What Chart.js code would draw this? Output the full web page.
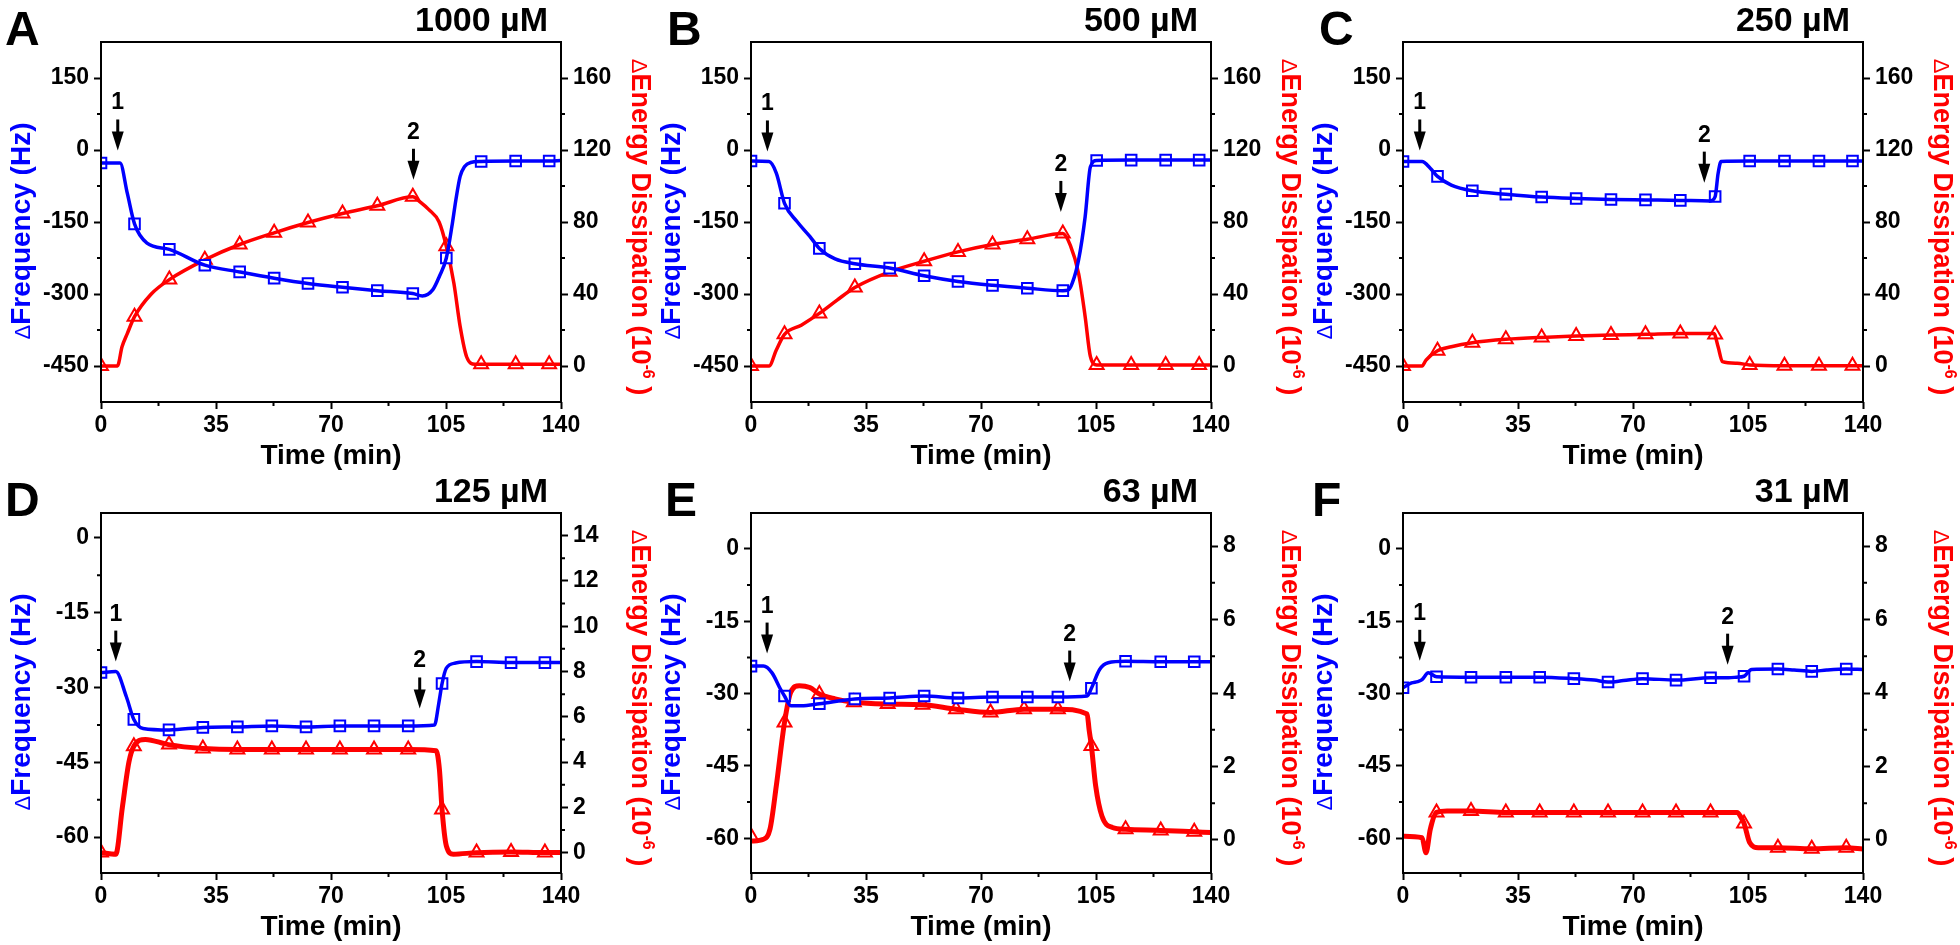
<!DOCTYPE html>
<html lang="en">
<head>
<meta charset="UTF-8">
<title>Frequency and dissipation traces</title>
<script src="https://cdn.jsdelivr.net/npm/chart.js@4"></script>
<style>
  * { margin: 0; padding: 0; box-sizing: border-box; }
  body { background: #fff; width: 1960px; height: 945px; overflow: hidden; position: relative; }
  .panel { position: absolute; width: 690px; height: 475px; }
  canvas { display: block; }
</style>
</head>
<body>
<div class="panel" style="left:0;top:0"><canvas id="cA" width="690" height="475"></canvas></div>
<div class="panel" style="left:650px;top:0"><canvas id="cB" width="690" height="475"></canvas></div>
<div class="panel" style="left:1302px;top:0"><canvas id="cC" width="690" height="475"></canvas></div>
<div class="panel" style="left:0;top:471px"><canvas id="cD" width="690" height="475"></canvas></div>
<div class="panel" style="left:650px;top:471px"><canvas id="cE" width="690" height="475"></canvas></div>
<div class="panel" style="left:1302px;top:471px"><canvas id="cF" width="690" height="475"></canvas></div>

<script>
// ---- tick labels ----
const timeTicks = [0, 35, 70, 105, 140];
const timeMinor = [17.5, 52.5, 87.5, 122.5];
const freqTicksHigh = [-450, -300, -150, 0, 150];
const freqMinorHigh = [-375, -225, -75, 75];
const dissTicksHigh = [0, 40, 80, 120, 160];
const dissMinorHigh = [20, 60, 100, 140];
const freqTicksLow = [-60, -45, -30, -15, 0];
const freqMinorLow = [-52.5, -37.5, -22.5, -7.5];
const dissTicksD = [0, 2, 4, 6, 8, 10, 12, 14];
const dissMinorD = [1, 3, 5, 7, 9, 11, 13];
const dissTicksLow = [0, 2, 4, 6, 8];
const dissMinorLow = [1, 3, 5, 7];

// ---- A : 1000 uM ----
const aFreqTime = [0, 5.8, 8, 10.2, 14, 20.8, 31.6, 42.2, 52.7, 63, 73.5, 84.1, 94.9, 97.8, 101, 103, 105.1, 106.8, 108, 109.3, 110.6, 112.5, 115.7, 126.2, 136.4, 140];
const aFreq = [-27, -27, -90, -154, -194, -207, -240, -254, -267, -278, -286, -293, -299, -304, -291, -263, -225, -159, -104, -55, -35, -26, -24, -23, -23, -22];
const aDissTime = [0, 5, 6.4, 8, 10.2, 15.3, 20.8, 31.6, 42.2, 52.7, 63, 73.5, 84.1, 94.9, 97.2, 99.7, 102.9, 105.1, 107.4, 109.3, 111.3, 113.8, 115.7, 126.2, 136.4, 140];
const aDiss = [0, 0, 10.7, 18, 27.4, 40, 48, 59, 67.5, 74, 79.7, 84.7, 89, 94, 91, 87, 80, 66.5, 46, 22, 5, 1, 1, 1, 1, 1];
const aMarkTime = [0, 10.2, 20.8, 31.6, 42.2, 52.7, 63, 73.5, 84.1, 94.9, 105.1, 115.7, 126.2, 136.4];
const aMarkFreq = [-27, -154, -207, -240, -254, -267, -278, -286, -293, -299, -225, -24, -23, -23];
const aMarkDiss = [0, 27.4, 48, 59, 67.5, 74, 79.7, 84.7, 89, 94, 66.5, 1, 1, 1];
const aArrows = [[5.1, -1], [95.1, -62]];

// ---- B : 500 uM ----
const bFreqTime = [0, 5.5, 7.7, 10.2, 14, 17.9, 20.8, 25.6, 31.6, 42.2, 52.7, 63, 73.5, 84.1, 94.9, 96.5, 97.8, 99.7, 101.7, 103.3, 105.2, 115.7, 126.2, 136.4, 140];
const bFreq = [-23, -24, -48, -111, -149, -180, -205, -227, -237, -246, -262, -274, -282, -288, -293, -292, -277, -229, -139, -35, -22, -21, -21, -21, -21];
const bDissTime = [0, 5.5, 7.7, 10.2, 15.3, 20.8, 26.2, 31.6, 42.2, 52.7, 63, 73.5, 84.1, 94.9, 97.2, 99.7, 101.7, 103.3, 105.2, 115.7, 126.2, 136.4, 140];
const bDiss = [0, 0, 8.9, 17.6, 22.7, 29.2, 36.6, 43.6, 52.3, 58.2, 63.4, 67.5, 70.4, 73.6, 67, 51.4, 27.4, 5.2, 0.6, 0.5, 0.5, 0.5, 0.5];
const bMarkTime = [0, 10.2, 20.8, 31.6, 42.2, 52.7, 63, 73.5, 84.1, 94.9, 105.2, 115.7, 126.2, 136.4];
const bMarkFreq = [-23, -111, -205, -237, -246, -262, -274, -282, -288, -293, -22, -21, -21, -21];
const bMarkDiss = [0, 17.6, 29.2, 43.6, 52.3, 58.2, 63.4, 67.5, 70.4, 73.6, 0.6, 0.5, 0.5, 0.5];
const bArrows = [[5, -3], [94.3, -129]];

// ---- C : 250 uM ----
const cFreqTime = [0, 5.8, 8.3, 10.5, 14.7, 21.1, 31.3, 42.2, 52.7, 63.3, 73.8, 84.4, 93.4, 95, 95.9, 96.8, 105.5, 116.1, 126.6, 136.8, 140];
const cFreq = [-24, -24, -38, -55, -73, -85, -92, -98, -101, -103, -104, -105, -106, -97, -49, -24, -23, -23, -23, -23, -23];
const cDissTime = [0, 5.8, 7, 10.5, 14.7, 21.1, 31.3, 42.2, 52.7, 63.3, 73.8, 84.4, 94.6, 95.9, 97.2, 101.7, 105.5, 116.1, 126.6, 136.8, 140];
const cDiss = [0, 0, 3.3, 8.5, 10.7, 12.9, 14.8, 15.9, 16.6, 17.2, 17.6, 18.1, 18.1, 10.7, 2.4, 1.5, 0.6, 0.2, 0.2, 0.2, 0.2];
const cMarkTime = [0, 10.5, 21.1, 31.3, 42.2, 52.7, 63.3, 73.8, 84.4, 95, 105.5, 116.1, 126.6, 136.8];
const cMarkFreq = [-24, -55, -85, -92, -98, -101, -103, -104, -105, -97, -23, -23, -23, -23];
const cMarkDiss = [0, 8.5, 12.9, 14.8, 15.9, 16.6, 17.2, 17.6, 18.1, 17.5, 0.6, 0.2, 0.2, 0.2];
const cArrows = [[5.1, -1], [91.7, -68]];

// ---- D : 125 uM ----
const dFreqTime = [0, 4.5, 7.7, 10, 12.8, 20.8, 31.1, 41.5, 52, 62.4, 72.7, 83.1, 93.5, 101.5, 102.8, 103.8, 105.1, 107.9, 114.3, 124.8, 135.1, 140];
const dFreq = [-27, -26.8, -31.8, -36.4, -38.2, -38.5, -38, -37.9, -37.7, -37.9, -37.7, -37.7, -37.7, -37.5, -33.2, -29.2, -26.1, -25.1, -24.8, -25, -25, -25];
const dDissTime = [0, 4.5, 6.5, 8.5, 10, 13.5, 20.5, 31, 41.5, 52, 62.4, 72.7, 83.1, 93.5, 102, 103, 103.8, 105.1, 107.2, 114.3, 124.8, 135.1, 140];
const dDiss = [0, -0.07, 2.0, 4.0, 4.7, 5.0, 4.77, 4.6, 4.55, 4.55, 4.55, 4.55, 4.55, 4.55, 4.5, 3.67, 1.9, 0.3, -0.07, 0, 0.03, 0, 0];
const dMarkTime = [0, 10, 20.7, 31, 41.5, 52, 62.4, 72.7, 83.1, 93.5, 103.8, 114.3, 124.8, 135.1];
const dMarkFreq = [-27, -36.4, -38.5, -38, -37.9, -37.7, -37.9, -37.7, -37.7, -37.7, -29.2, -24.8, -25, -25];
const dMarkDiss = [0, 4.7, 4.77, 4.6, 4.55, 4.55, 4.55, 4.55, 4.55, 4.55, 1.9, 0, 0.03, 0];
const dArrows = [[4.5, -24.8], [97, -34.2]];

// ---- E : 63 uM ----
const eFreqTime = [0, 3.8, 6.4, 9, 10.2, 12.1, 15.3, 20.8, 31.6, 42.2, 52.7, 63, 73.5, 84.1, 93.4, 102.3, 103.6, 106.1, 108.7, 114, 124.7, 134.9, 140];
const eFreq = [-24.3, -24.3, -25.7, -29.1, -30.5, -32.5, -32.5, -32.1, -31.1, -30.9, -30.5, -30.9, -30.7, -30.7, -30.7, -30.5, -28.9, -25, -23.6, -23.3, -23.4, -23.4, -23.4];
const eDissTime = [0, 3.8, 5.8, 7.7, 10.2, 12.1, 14.7, 17.9, 20.8, 25.6, 31.3, 41.6, 52.2, 62.4, 72.9, 83.1, 93.4, 102.3, 102.9, 103.6, 104.9, 106.8, 110, 114, 124.7, 134.9, 140];
const eDiss = [-0.03, 0.02, 0.3, 1.47, 3.2, 4.02, 4.2, 4.15, 3.97, 3.84, 3.75, 3.7, 3.68, 3.56, 3.47, 3.56, 3.56, 3.43, 3.0, 2.56, 1.47, 0.65, 0.34, 0.29, 0.26, 0.22, 0.2];
const eMarkTime = [0, 10.2, 20.8, 31.6, 42.2, 52.7, 63, 73.5, 84.1, 93.4, 103.6, 114, 124.7, 134.9];
const eMarkFreq = [-24.3, -30.5, -32.1, -31.1, -30.9, -30.5, -30.9, -30.7, -30.7, -30.7, -28.9, -23.3, -23.4, -23.4];
const eMarkDissTime = [0, 10.2, 20.8, 31.3, 41.6, 52.2, 62.4, 72.9, 83.1, 93.4, 103.6, 114, 124.7, 134.9];
const eMarkDiss = [0.1, 3.2, 3.97, 3.75, 3.7, 3.68, 3.56, 3.47, 3.56, 3.56, 2.56, 0.29, 0.26, 0.22];
const eArrows = [[4.9, -21.7], [97, -27.5]];

// ---- F : 31 uM ----
const fFreqTime = [0, 2.6, 4.5, 5.8, 7.7, 10.2, 20.7, 31.3, 41.6, 52, 58.2, 62.4, 67.1, 72.9, 83.1, 93.6, 99.1, 101.5, 103.8, 106.1, 114.1, 119, 124.4, 129, 134.9, 140];
const fFreq = [-28.8, -27.8, -27.5, -27.1, -25.7, -26.5, -26.6, -26.6, -26.6, -26.9, -27.2, -27.6, -27.3, -26.9, -27.2, -26.7, -26.7, -26.6, -26.4, -25, -24.9, -25.1, -25.4, -25.1, -24.9, -25];
const fDissTime = [0, 5.8, 7, 8.3, 10.2, 13.4, 20.7, 31.3, 41.6, 52, 62.4, 72.9, 83.1, 93.6, 101.7, 102.9, 103.8, 105.5, 108.1, 114.1, 124.4, 134.9, 140];
const fDiss = [0.1, 0.06, -0.35, 0.29, 0.75, 0.79, 0.79, 0.75, 0.75, 0.75, 0.75, 0.75, 0.75, 0.75, 0.75, 0.61, 0.45, -0.07, -0.21, -0.21, -0.24, -0.21, -0.25];
const fMarkTime = [0, 10.2, 20.7, 31.3, 41.6, 52, 62.4, 72.9, 83.1, 93.6, 103.8, 114.1, 124.4, 134.9];
const fMarkFreq = [-28.8, -26.5, -26.6, -26.6, -26.6, -26.9, -27.6, -26.9, -27.2, -26.7, -26.4, -24.9, -25.4, -24.9];
const fMarkDissTime = [10.2, 20.7, 31.3, 41.6, 52, 62.4, 72.9, 83.1, 93.6, 103.8, 114.1, 124.4, 134.9];
const fMarkDiss = [0.75, 0.79, 0.75, 0.75, 0.75, 0.75, 0.75, 0.75, 0.75, 0.45, -0.21, -0.24, -0.21];
const fArrows = [[5.1, -23.2], [98.8, -24]];

const BLUE = '#0000ff';
const RED = '#ff0000';
const FONT = '"Liberation Sans", Arial, sans-serif';
Chart.defaults.font.family = FONT;

function pts(xs, ys) { return xs.map((x, i) => ({ x, y: ys[i] })); }

// text made of runs in different fonts, centred on (cx, cy) along its baseline
function richText(ctx, parts, cx, cy, rot, color) {
  let total = 0;
  parts.forEach(p => { ctx.font = p.font; p.w = ctx.measureText(p.t).width; total += p.w; });
  ctx.save();
  ctx.translate(cx, cy);
  ctx.rotate(rot);
  ctx.fillStyle = color;
  ctx.textAlign = 'left';
  ctx.textBaseline = 'alphabetic';
  let x = -total / 2;
  parts.forEach(p => { ctx.font = p.font; ctx.fillText(p.t, x, p.dy || 0); x += p.w; });
  ctx.restore();
}

// frame, minor ticks, axis titles, arrows, panel letter and concentration
const decor = {
  id: 'decor',
  afterDatasetsDraw(chart, args, o) {
    const ctx = chart.ctx, a = chart.chartArea;
    const xs = chart.scales.x, yl = chart.scales.yF, yr = chart.scales.yD;
    const midY = (a.top + a.bottom) / 2, midX = (a.left + a.right) / 2;
    ctx.save();
    ctx.strokeStyle = '#000';
    ctx.lineWidth = 2;
    ctx.strokeRect(a.left, a.top, a.right - a.left, a.bottom - a.top);
    ctx.beginPath();
    o.minorX.forEach(v => { const p = xs.getPixelForValue(v); ctx.moveTo(p, a.bottom); ctx.lineTo(p, a.bottom + 4); });
    o.minorF.forEach(v => { const p = yl.getPixelForValue(v); ctx.moveTo(a.left, p); ctx.lineTo(a.left - 4, p); });
    o.minorD.forEach(v => { const p = yr.getPixelForValue(v); ctx.moveTo(a.right, p); ctx.lineTo(a.right + 4, p); });
    ctx.stroke();

    richText(ctx, [
      { t: 'Δ', font: '22px ' + FONT },
      { t: 'Frequency (Hz)', font: 'bold 28px ' + FONT }
    ], a.left - 71, midY + 9, -Math.PI / 2, BLUE);
    richText(ctx, [
      { t: 'Δ', font: '22px ' + FONT },
      { t: 'Energy Dissipation (10', font: 'bold 27px ' + FONT },
      { t: '-6', font: 'bold 16px ' + FONT, dy: -11 },
      { t: ' )', font: 'bold 27px ' + FONT }
    ], a.right + 71, midY + 5, Math.PI / 2, RED);
    richText(ctx, [{ t: 'Time (min)', font: 'bold 28px ' + FONT }], midX, a.bottom + 62, 0, '#000');

    ctx.fillStyle = '#000';
    ctx.font = 'bold 23px ' + FONT;
    ctx.textAlign = 'center';
    ctx.textBaseline = 'alphabetic';
    o.arrows.forEach(([t, v], i) => {
      const x = xs.getPixelForValue(t), y = yl.getPixelForValue(v);
      ctx.lineWidth = 3;
      ctx.beginPath(); ctx.moveTo(x, y - 31); ctx.lineTo(x, y - 16); ctx.stroke();
      ctx.beginPath(); ctx.moveTo(x - 6, y - 19); ctx.lineTo(x + 6, y - 19); ctx.lineTo(x, y); ctx.closePath(); ctx.fill();
      ctx.fillText(String(i + 1), x, y - 41);
    });

    ctx.font = 'bold 48px ' + FONT;
    ctx.textAlign = 'left';
    ctx.fillText(o.letter, a.left + o.letterDx, a.top + 3);
    ctx.font = 'bold 34px ' + FONT;
    ctx.textAlign = 'right';
    ctx.fillText(o.conc, a.right - 13, a.top - 11);
    ctx.restore();
  }
};

const tickGrid = { display: true, drawOnChartArea: false, drawTicks: true, tickLength: 7, tickWidth: 2, tickColor: '#000', color: '#000' };
const tickFont = { size: 23, weight: 'bold' };

function yAxis(pos, range, majors, width) {
  return {
    type: 'linear', position: pos, min: range[0], max: range[1],
    afterBuildTicks: s => { s.ticks = majors.map(v => ({ value: v })); },
    afterFit: s => { s.width = width; },
    grid: tickGrid,
    border: { display: false },
    ticks: { color: '#000', padding: 5, font: tickFont, callback: v => String(v) }
  };
}

function panel(id, p) {
  const line = (xs, ys, color, w, axis) => ({
    data: pts(xs, ys), yAxisID: axis, showLine: true, borderColor: color, borderWidth: w,
    pointRadius: 0, cubicInterpolationMode: 'monotone'
  });
  const marks = (xs, ys, color, style, r, axis) => ({
    data: pts(xs, ys), yAxisID: axis, showLine: false, pointStyle: style, pointRadius: r,
    pointBorderWidth: 2, pointBorderColor: color, pointBackgroundColor: '#fff'
  });
  new Chart(document.getElementById(id), {
    type: 'scatter',
    data: {
      datasets: [
        line(p.fT, p.f, BLUE, p.wF, 'yF'),
        marks(p.mFT, p.mF, BLUE, 'rect', 7.5, 'yF'),
        line(p.dT, p.d, RED, p.wD, 'yD'),
        marks(p.mDT, p.mD, RED, 'triangle', 8, 'yD')
      ]
    },
    options: {
      responsive: false,
      animation: false,
      layout: { padding: { top: 42, left: 0, right: 0, bottom: 0 } },
      plugins: {
        legend: { display: false },
        tooltip: { enabled: false },
        decor: { minorX: timeMinor, minorF: p.fMinor, minorD: p.dMinor, arrows: p.arrows, letter: p.letter, letterDx: p.letterDx, conc: p.conc }
      },
      scales: {
        x: {
          type: 'linear', position: 'bottom', min: 0, max: 140,
          afterBuildTicks: s => { s.ticks = timeTicks.map(v => ({ value: v })); },
          afterFit: s => { s.height = 73; },
          grid: tickGrid,
          border: { display: false },
          ticks: { color: '#000', padding: 3, maxRotation: 0, font: tickFont, callback: v => String(v) }
        },
        yF: yAxis('left', p.fRange, p.fTicks, 101),
        yD: yAxis('right', p.dRange, p.dTicks, 129)
      }
    },
    plugins: [decor]
  });
}

const high = { fRange: [-525, 225], dRange: [-20, 180], fTicks: freqTicksHigh, fMinor: freqMinorHigh, dTicks: dissTicksHigh, dMinor: dissMinorHigh, wF: 3.5, wD: 3.5 };
const low = { fRange: [-67.2, 7.45], dRange: [-0.9, 8.9], fTicks: freqTicksLow, fMinor: freqMinorLow, dTicks: dissTicksLow, dMinor: dissMinorLow, wF: 3.5, wD: 5 };

panel('cA', { ...high, letter: 'A', letterDx: -96, conc: '1000 µM', fT: aFreqTime, f: aFreq, dT: aDissTime, d: aDiss, mFT: aMarkTime, mF: aMarkFreq, mDT: aMarkTime, mD: aMarkDiss, arrows: aArrows });
panel('cB', { ...high, letter: 'B', letterDx: -84, conc: '500 µM', fT: bFreqTime, f: bFreq, dT: bDissTime, d: bDiss, mFT: bMarkTime, mF: bMarkFreq, mDT: bMarkTime, mD: bMarkDiss, arrows: bArrows });
panel('cC', { ...high, letter: 'C', letterDx: -84, conc: '250 µM', fT: cFreqTime, f: cFreq, dT: cDissTime, d: cDiss, mFT: cMarkTime, mF: cMarkFreq, mDT: cMarkTime, mD: cMarkDiss, arrows: cArrows });
panel('cD', { ...low, fRange: [-67.2, 5], dRange: [-0.9, 15], dTicks: dissTicksD, dMinor: dissMinorD, letter: 'D', letterDx: -96, conc: '125 µM', fT: dFreqTime, f: dFreq, dT: dDissTime, d: dDiss, mFT: dMarkTime, mF: dMarkFreq, mDT: dMarkTime, mD: dMarkDiss, arrows: dArrows });
panel('cE', { ...low, letter: 'E', letterDx: -86, conc: '63 µM', fT: eFreqTime, f: eFreq, dT: eDissTime, d: eDiss, mFT: eMarkTime, mF: eMarkFreq, mDT: eMarkDissTime, mD: eMarkDiss, arrows: eArrows });
panel('cF', { ...low, letter: 'F', letterDx: -91, conc: '31 µM', fT: fFreqTime, f: fFreq, dT: fDissTime, d: fDiss, mFT: fMarkTime, mF: fMarkFreq, mDT: fMarkDissTime, mD: fMarkDiss, arrows: fArrows });
</script>
</body>
</html>
